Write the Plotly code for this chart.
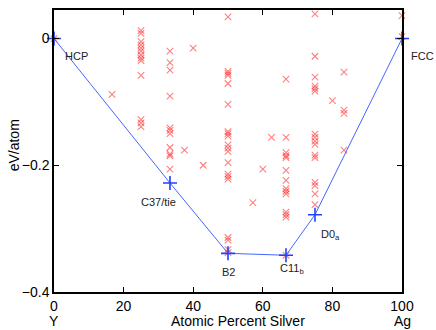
import plotly.graph_objects as go

# composition (atomic % Ag) of each column of computed structures
compositions = [0, 16.67, 25, 33.33, 37.5, 40, 42.86, 50, 57.14, 60, 62.5,
                66.67, 75, 80, 83.33, 100]
# formation energies (eV/atom) for each composition
energies = [
    [0.0],
    [-0.088],
    [0.0125, 0.008, -0.005, -0.010, -0.015, -0.020, -0.026, -0.031, -0.035,
     -0.058, -0.128, -0.133, -0.139],
    [-0.020, -0.038, -0.050, -0.091, -0.141, -0.145, -0.150, -0.172, -0.182,
     -0.185, -0.206],
    [-0.176],
    [-0.015],
    [-0.200],
    [0.034, -0.052, -0.055, -0.058, -0.071, -0.104, -0.147, -0.150, -0.154,
     -0.168, -0.173, -0.178, -0.196, -0.214, -0.218, -0.222, -0.314, -0.318,
     -0.333, -0.338],
    [-0.259],
    [-0.206],
    [-0.156],
    [-0.064, -0.156, -0.180, -0.185, -0.188, -0.208, -0.224, -0.237, -0.241,
     -0.245, -0.274, -0.278, -0.282, -0.342],
    [0.039, -0.028, -0.061, -0.075, -0.079, -0.083, -0.151, -0.156, -0.162,
     -0.167, -0.184, -0.188, -0.227, -0.232, -0.245, -0.262],
    [-0.098],
    [-0.053, -0.113, -0.118, -0.176],
    [0.036, 0.003],
]

hull_x = [0, 33.33, 50, 66.67, 75, 100]
hull_e = [0, -0.228, -0.339, -0.342, -0.278, 0]

labels = ["HCP", "C37/tie", "B2", "C11<sub>b</sub>", "D0<sub>a</sub>"]
label_x = [6.5, 30, 50, 68.5, 79.5]
label_e = [-0.027, -0.258, -0.369, -0.364, -0.310]

xs, ys = [], []
for c, es in zip(compositions, energies):
    for e in es:
        xs.append(c)
        ys.append(e)

fig = go.Figure()
fig.add_trace(go.Scatter(
    x=xs, y=ys, mode="markers",
    marker=dict(symbol="x-thin-open", size=6.5, opacity=0.5, color="#ff0000",
                line=dict(color="#ff0000", width=1.1)),
    cliponaxis=False, showlegend=False))
fig.add_trace(go.Scatter(
    x=hull_x, y=hull_e, mode="lines+markers",
    line=dict(color="#4466ff", width=1),
    marker=dict(symbol="cross-thin-open", size=10, color="#2040ff",
                line=dict(color="#2040ff", width=1.6)),
    cliponaxis=False, showlegend=False))

for t, lx, ly in zip(labels, label_x, label_e):
    fig.add_annotation(x=lx, y=ly, text=t, showarrow=False,
                       font=dict(size=11, color="#222"))
# FCC sits outside the x range, so place it in paper coords
fig.add_annotation(x=1.02, y=-0.028, xref="paper", yref="y", text="FCC",
                   xanchor="left", showarrow=False,
                   font=dict(size=11, color="#222"))

axis_style = dict(showline=True, linecolor="black", linewidth=1.5, mirror="ticks",
                  ticks="inside", ticklen=5, tickcolor="black", tickwidth=1,
                  showgrid=False, zeroline=False,
                  tickfont=dict(size=14, color="black"))

fig.update_xaxes(range=[0, 100], tickvals=[0, 20, 40, 60, 80, 100], **axis_style)
fig.update_yaxes(range=[-0.4, 0.045], tickvals=[0, -0.2, -0.4],
                 ticktext=["0", "\u22120.2", "\u22120.4"], **axis_style)

for t, px_x in [("Y", 0), ("Ag", 100)]:
    fig.add_annotation(x=px_x, y=-0.102, xref="x", yref="paper", text=t,
                       showarrow=False, yanchor="middle",
                       font=dict(size=14, color="black"))
fig.add_annotation(x=0.53, y=-0.102, xref="paper", yref="paper",
                   text="Atomic Percent Silver", showarrow=False,
                   yanchor="middle", font=dict(size=14, color="black"))
fig.add_annotation(x=-0.115, y=0.52, xref="paper", yref="paper",
                   text="eV/atom", showarrow=False, textangle=-90,
                   xanchor="center", font=dict(size=14, color="black"))

fig.update_layout(
    width=436, height=330,
    margin=dict(l=54, r=34, t=8, b=38),
    plot_bgcolor="white", paper_bgcolor="white",
    font=dict(family="Liberation Sans, Arial, sans-serif"),
)

fig.write_html("out.html", config={"displayModeBar": False},
               post_script="document.body.style.margin='0';")
